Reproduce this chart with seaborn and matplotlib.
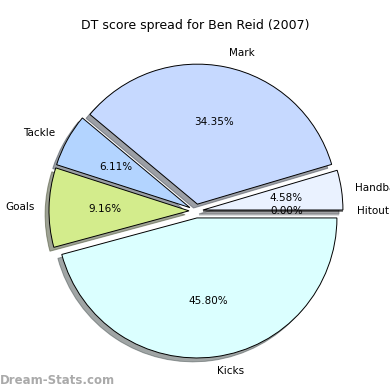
import matplotlib
matplotlib.use("Agg")
import matplotlib.pyplot as plt
import seaborn as sns

sns.set_style("white")
plt.rcParams['font.family'] = ['DejaVu Sans']
plt.rcParams['text.color'] = 'black'

# data
labels = ['Hitout', 'Handball', 'Mark', 'Tackle', 'Goals', 'Kicks']
scores = [0, 6, 45, 8, 12, 60]
colors = ['#e6ecff', '#eaf2ff', '#c6d9ff', '#b3d4ff', '#d3ec8c', '#dbffff']
explode = [0.05] * len(labels)

fig = plt.figure(figsize=(3.9, 3.9), dpi=100)
ax = fig.add_axes([28 / 390, 11 / 390, 336 / 390, 336 / 390])

wedges, texts, autotexts = ax.pie(
    scores, labels=labels, colors=colors, explode=explode,
    autopct='%1.2f%%', startangle=0, shadow=True,
    wedgeprops=dict(edgecolor='black', linewidth=0.7),
    textprops=dict(fontsize=7.5, color='black'))
ax.set_xlim(-1.2, 1.2)
ax.set_ylim(-1.2, 1.2)
ax.set_aspect('equal')
ax.axis('off')

fig.text(0.5, 365 / 390, 'DT score spread for Ben Reid (2007)',
         ha='center', va='center', fontsize=9, color='black')
fig.text(0.0, 9 / 390, 'Dream-Stats.com', ha='left', va='center',
         fontsize=8.5, color='#aaaaaa', fontweight='bold')

plt.savefig('out.png', dpi=100)
